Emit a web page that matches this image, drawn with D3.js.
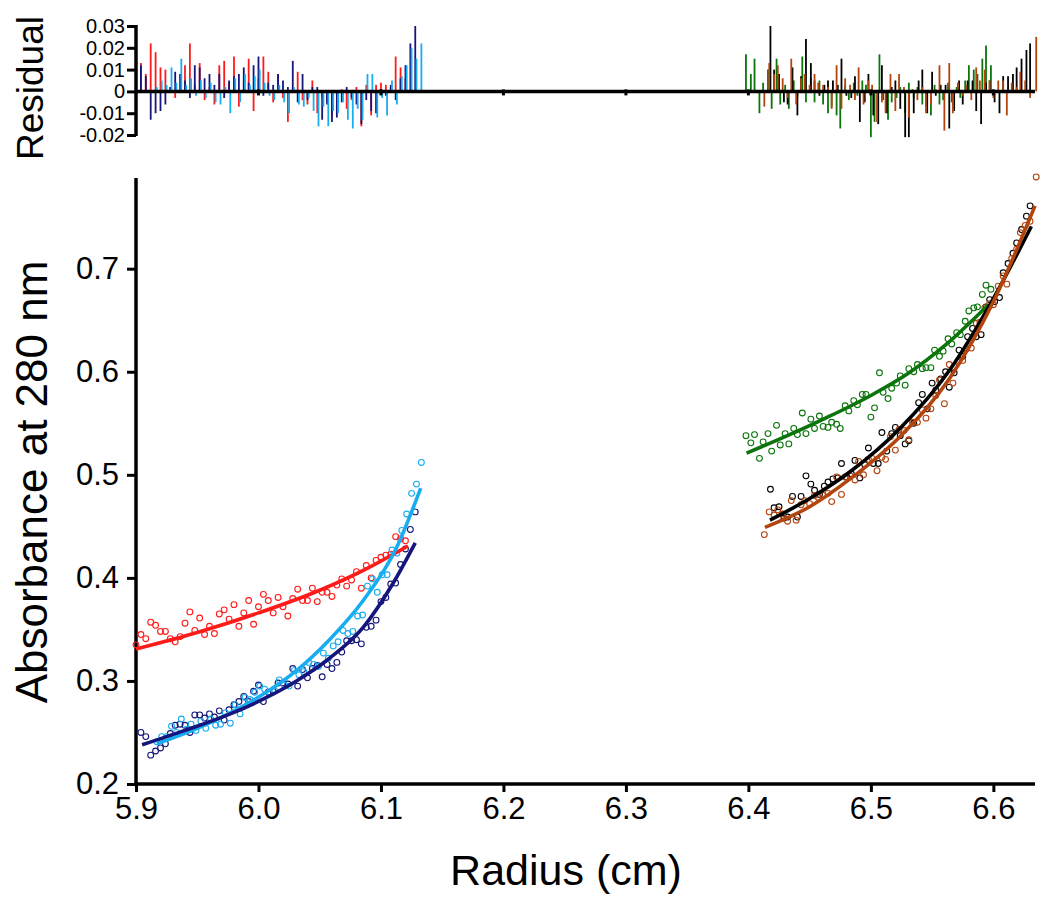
<!DOCTYPE html>
<html><head><meta charset="utf-8">
<script src="https://cdn.jsdelivr.net/npm/d3@7"></script>
<style>
html,body{margin:0;padding:0;background:#fff;}
svg{display:block;font-family:"Liberation Sans",Arial,Helvetica,sans-serif;}
</style></head>
<body><svg id="chart" width="1050" height="907"></svg>
<script>
// ---------- data ----------
const xTicks = [5.9, 6.0, 6.1, 6.2, 6.3, 6.4, 6.5, 6.6];
const yTicks = [0.2, 0.3, 0.4, 0.5, 0.6, 0.7];
const resTicks = [-0.02, -0.01, 0, 0.01, 0.02, 0.03];

// points: [radius, absorbance, residual]
const redPts = [
[5.900,.335,.004],[5.904,.345,.013],[5.908,.341,.008],[5.912,.357,.022],[5.916,.354,.018],[5.920,.348,.011],[5.924,.348,.010],[5.928,.341,.002],[5.932,.338,-.003],[5.936,.343,.001],[5.940,.356,.012],[5.944,.367,.022],[5.948,.349,.003],[5.952,.361,.013],[5.956,.345,-.004],[5.960,.353,.002],[5.964,.346,-.006],[5.968,.365,.012],[5.972,.369,.014],[5.976,.360,.004],[5.980,.374,.016],[5.984,.353,-.007],[5.988,.366,.005],[5.992,.378,.015],[5.996,.355,-.009],[6.000,.372,.006],[6.004,.384,.016],[6.008,.378,.009],[6.012,.366,-.005],[6.016,.381,.008],[6.020,.372,-.003],[6.024,.363,-.014],[6.028,.380,.002],[6.032,.389,.009],[6.036,.378,-.004],[6.040,.378,-.006],[6.044,.390,.005],[6.048,.377,-.010],[6.052,.386,-.003],[6.056,.386,-.005],[6.060,.382,-.011],[6.064,.393,-.002],[6.068,.399,.001],[6.072,.392,-.008],[6.076,.398,-.004],[6.080,.406,.002],[6.084,.390,-.016],[6.088,.412,.003],[6.092,.400,-.011],[6.096,.417,.003],[6.100,.420,.004],[6.104,.422,.003],[6.108,.423,.002],[6.112,.440,.016],[6.116,.438,.011],[6.120,.436,.006]
];
const navyPts = [
[5.904,.250,.012],[5.908,.246,.007],[5.912,.228,-.013],[5.916,.232,-.010],[5.920,.235,-.009],[5.924,.239,-.006],[5.928,.249,.002],[5.932,.257,.009],[5.936,.258,.008],[5.940,.257,.005],[5.944,.250,-.003],[5.948,.267,.012],[5.952,.267,.011],[5.956,.264,.006],[5.960,.268,.008],[5.964,.265,.003],[5.968,.271,.008],[5.972,.262,-.003],[5.976,.272,.005],[5.980,.277,.007],[5.984,.280,.008],[5.988,.285,.011],[5.992,.280,.004],[5.996,.290,.012],[6.000,.296,.016],[6.004,.280,-.002],[6.008,.289,.004],[6.012,.290,.003],[6.016,.298,.008],[6.020,.298,.005],[6.024,.297,.002],[6.028,.312,.014],[6.032,.295,-.005],[6.036,.311,.008],[6.040,.303,-.004],[6.044,.312,.002],[6.048,.315,.002],[6.052,.304,-.013],[6.056,.316,-.006],[6.060,.312,-.014],[6.064,.318,-.012],[6.068,.328,-.005],[6.072,.339,.002],[6.076,.339,-.003],[6.080,.340,-.006],[6.084,.336,-.015],[6.088,.352,-.004],[6.092,.353,-.009],[6.096,.359,-.010],[6.100,.377,.001],[6.104,.381,-.002],[6.108,.394,.003],[6.112,.395,-.004],[6.116,.413,.006],[6.120,.428,.012],[6.124,.447,.022],[6.128,.464,.030]
];
const lblPts = [
[5.917,.241,.002],[5.921,.246,.005],[5.925,.246,.003],[5.929,.256,.011],[5.933,.250,.004],[5.937,.263,.015],[5.941,.253,.003],[5.945,.258,.006],[5.949,.252,-.002],[5.953,.261,.005],[5.957,.254,-.003],[5.961,.263,.004],[5.965,.257,-.005],[5.969,.258,-.006],[5.973,.269,.002],[5.977,.259,-.010],[5.981,.277,.006],[5.985,.268,-.005],[5.989,.284,.008],[5.993,.282,.003],[5.997,.289,.007],[6.001,.295,.010],[6.005,.292,.004],[6.009,.289,-.002],[6.013,.291,-.004],[6.017,.301,.003],[6.021,.296,-.005],[6.025,.295,-.010],[6.029,.310,.002],[6.033,.306,-.006],[6.037,.309,-.007],[6.041,.318,-.003],[6.045,.316,-.009],[6.049,.314,-.016],[6.053,.327,-.007],[6.057,.322,-.016],[6.061,.334,-.009],[6.065,.338,-.010],[6.069,.349,-.005],[6.073,.346,-.013],[6.077,.348,-.017],[6.081,.363,-.008],[6.085,.364,-.013],[6.089,.392,.008],[6.093,.399,.008],[6.097,.386,-.012],[6.101,.403,-.003],[6.105,.403,-.011],[6.109,.427,.005],[6.113,.424,-.006],[6.117,.446,.007],[6.121,.462,.012],[6.125,.482,.020],[6.129,.491,.015],[6.133,.512,.022]
];
const greenPts = [
[6.398,.538,.017],[6.402,.531,.008],[6.405,.539,.015],[6.409,.516,-.010],[6.412,.532,.004],[6.416,.540,.010],[6.419,.523,-.008],[6.423,.548,.015],[6.426,.529,-.006],[6.430,.540,.003],[6.433,.530,-.008],[6.437,.545,.005],[6.440,.539,-.003],[6.444,.560,.016],[6.447,.540,-.005],[6.451,.554,.006],[6.454,.545,-.005],[6.458,.557,.005],[6.461,.547,-.006],[6.465,.546,-.010],[6.468,.551,-.007],[6.472,.549,-.011],[6.475,.545,-.017],[6.479,.567,.003],[6.482,.562,-.004],[6.486,.572,.004],[6.489,.568,-.002],[6.493,.578,.005],[6.496,.578,.003],[6.500,.556,-.021],[6.503,.565,-.014],[6.507,.599,.017],[6.510,.580,-.004],[6.514,.574,-.013],[6.517,.584,-.005],[6.521,.589,-.003],[6.524,.596,.002],[6.528,.587,-.010],[6.531,.603,.004],[6.535,.600,-.003],[6.538,.607,.002],[6.542,.603,-.006],[6.545,.604,-.007],[6.549,.604,-.011],[6.552,.621,.003],[6.556,.615,-.006],[6.559,.620,-.004],[6.563,.632,.004],[6.566,.627,-.005],[6.570,.638,.002],[6.573,.636,-.003],[6.577,.649,.005],[6.580,.659,.012],[6.584,.662,.010],[6.587,.663,.008],[6.591,.675,.015],[6.594,.684,.021],[6.598,.680,.012]
];
const blackPts = [
[6.418,.486,.030],[6.421,.468,.010],[6.425,.469,.008],[6.429,.458,-.005],[6.432,.459,-.006],[6.436,.479,.011],[6.440,.459,-.011],[6.443,.479,.007],[6.447,.499,.024],[6.451,.491,.013],[6.454,.485,.005],[6.458,.481,-.002],[6.462,.489,.003],[6.465,.493,.005],[6.469,.496,.005],[6.473,.497,.003],[6.476,.511,.015],[6.480,.498,-.002],[6.484,.501,-.003],[6.487,.514,.007],[6.491,.497,-.014],[6.495,.510,-.005],[6.498,.526,.008],[6.502,.511,-.011],[6.506,.511,-.015],[6.509,.541,.012],[6.513,.523,-.010],[6.517,.540,.002],[6.520,.546,.005],[6.524,.538,-.008],[6.528,.530,-.021],[6.531,.533,-.021],[6.535,.550,-.010],[6.539,.570,.005],[6.542,.578,.010],[6.546,.564,-.010],[6.550,.589,.009],[6.553,.582,-.002],[6.557,.593,.003],[6.561,.600,.003],[6.564,.585,-.017],[6.568,.599,-.009],[6.572,.621,.005],[6.575,.615,-.006],[6.579,.634,.005],[6.583,.642,.005],[6.586,.634,-.009],[6.590,.636,-.015],[6.594,.663,.004],[6.597,.670,.005],[6.601,.668,-.005],[6.605,.672,-.010],[6.608,.696,.007],[6.612,.705,.007],[6.616,.715,.008],[6.619,.725,.011],[6.623,.738,.015],[6.627,.751,.019],[6.630,.761,.022]
];
const brownPts = [
[6.413,.442,-.007],[6.417,.464,.013],[6.421,.461,.008],[6.424,.466,.012],[6.428,.462,.006],[6.432,.455,-.003],[6.435,.475,.015],[6.439,.456,-.006],[6.443,.471,.006],[6.446,.475,.008],[6.450,.472,.003],[6.454,.480,.008],[6.457,.478,.004],[6.461,.480,.003],[6.465,.482,.002],[6.468,.474,-.008],[6.472,.498,.012],[6.476,.481,-.008],[6.479,.498,.006],[6.483,.499,.003],[6.487,.495,-.004],[6.490,.513,.011],[6.494,.500,-.006],[6.498,.515,.005],[6.501,.516,.003],[6.505,.504,-.014],[6.509,.517,-.005],[6.512,.515,-.010],[6.516,.537,.008],[6.520,.524,-.009],[6.523,.544,.008],[6.527,.543,.002],[6.531,.534,-.012],[6.534,.551,.001],[6.538,.551,-.004],[6.542,.563,.002],[6.545,.555,-.010],[6.549,.564,-.006],[6.553,.577,.001],[6.556,.592,.012],[6.560,.569,-.018],[6.564,.607,.013],[6.567,.589,-.010],[6.571,.610,.004],[6.575,.611,-.002],[6.578,.622,.003],[6.582,.623,-.004],[6.586,.647,.011],[6.589,.648,.005],[6.593,.662,.010],[6.597,.666,.005],[6.600,.665,-.003],[6.604,.683,.005],[6.608,.693,.005],[6.611,.685,-.011],[6.615,.710,.004],[6.619,.719,.002],[6.622,.735,.009],[6.626,.742,.005],[6.630,.746,-.003],[6.635,.789,.025]
];

// fitted curves: [radius, absorbance]
const redFit   = [[5.900,.331],[5.950,.347],[6.000,.366],[6.050,.388],[6.090,.410],[6.122,.431]];
const navyFit  = [[5.905,.238],[5.940,.252],[5.977,.268],[6.005,.283],[6.031,.300],[6.058,.322],[6.0855,.352],[6.110,.395],[6.128,.434]];
const lblFit   = [[5.917,.239],[5.950,.254],[5.977,.269],[6.005,.288],[6.031,.310],[6.058,.340],[6.0855,.378],[6.113,.430],[6.1324,.487]];
const greenFit = [[6.3985,.521],[6.430,.537],[6.463,.555],[6.500,.577],[6.530,.598],[6.560,.625],[6.596,.665]];
const blackFit = [[6.4176,.456],[6.450,.477],[6.483,.503],[6.5237,.545],[6.5645,.602],[6.600,.671],[6.631,.741]];
const brownFit = [[6.4135,.449],[6.450,.469],[6.483,.496],[6.5237,.537],[6.5645,.594],[6.600,.668],[6.634,.761]];

const seriesNames  = ["red","navy","lightblue","green","black","brown"];
const seriesColors = ["#ff1a1a","#15157c","#18adf0","#0b740b","#000000","#b3440e"];
const seriesPts    = [redPts, navyPts, lblPts, greenPts, blackPts, brownPts];
const seriesFits   = [redFit, navyFit, lblFit, greenFit, blackFit, brownFit];
const lineOrder    = [0, 2, 1, 3, 4, 5];

// ---------- chart ----------
const svg = d3.select("#chart");
svg.append("rect").attr("width",1050).attr("height",907).attr("fill","#fff");

const x  = d3.scaleLinear().domain([5.9, 6.634]).range([136, 1035]);
const y  = d3.scaleLinear().domain([0.2, 0.788]).range([784, 178]);
const yr = d3.scaleLinear().domain([-0.02, 0.03]).range([135, 26]);

// residual bars
const resG = svg.append("g");
seriesPts.forEach((pts, i) => {
  resG.selectAll(null).data(pts).enter().append("line")
    .attr("x1", d => x(d[0])).attr("x2", d => x(d[0]))
    .attr("y1", yr(0)).attr("y2", d => yr(d[2]))
    .attr("stroke", seriesColors[i]).attr("stroke-width", 1.8);
});
// residual zero line with small ticks
svg.append("line").attr("x1", x(5.9)).attr("x2", 1035)
  .attr("y1", yr(0)).attr("y2", yr(0)).attr("stroke","#000").attr("stroke-width",3.5);
svg.append("g").selectAll("rect").data(xTicks.slice(1)).enter().append("rect")
  .attr("x", d => x(d) - 1.5).attr("y", yr(0) - 2).attr("width", 3).attr("height", 6).attr("fill","#000");

const resAxis = svg.append("g").attr("transform", `translate(${x(5.9)},0)`)
  .call(d3.axisLeft(yr).tickValues(resTicks).tickSize(9).tickSizeOuter(0)
    .tickFormat(d => d === 0 ? "0" : d3.format(".2f")(d).replace("\u2212","-")));
resAxis.select(".domain").attr("stroke-width",3.5).attr("d", `M0,${yr(-0.02)+1}V${yr(0.03)-1}`);
resAxis.selectAll(".tick line").attr("stroke-width",3);
resAxis.selectAll(".tick text").attr("font-size",20).attr("font-family","Liberation Sans, Arial, sans-serif").attr("fill","#000").attr("x",-11);

svg.append("text").attr("transform","translate(43,88) rotate(-90)")
  .attr("text-anchor","middle").attr("font-size",37).text("Residual");

// main axes
const xAxis = svg.append("g").attr("transform", `translate(0,${y(0.2)})`)
  .call(d3.axisBottom(x).tickValues(xTicks).tickSize(8).tickSizeOuter(0).tickFormat(d3.format(".1f")));
xAxis.select(".domain").attr("stroke-width",3.5).attr("d", `M${x(5.9)-1.5},0H1035`);
xAxis.selectAll(".tick line").attr("stroke-width",3);
xAxis.selectAll(".tick text").attr("font-size",31).attr("font-family","Liberation Sans, Arial, sans-serif").attr("fill","#000").attr("y",13);

const yAxis = svg.append("g").attr("transform", `translate(${x(5.9)},0)`)
  .call(d3.axisLeft(y).tickValues(yTicks).tickSize(9).tickSizeOuter(0).tickFormat(d3.format(".1f")));
yAxis.select(".domain").attr("stroke-width",3.5).attr("d", `M0,${y(0.2)+1.5}V178`);
yAxis.selectAll(".tick line").attr("stroke-width",3);
yAxis.selectAll(".tick text").attr("font-size",31).attr("font-family","Liberation Sans, Arial, sans-serif").attr("fill","#000").attr("x",-17);

svg.append("text").attr("x",566).attr("y",885).attr("text-anchor","middle")
  .attr("font-size",43).text("Radius (cm)");
svg.append("text").attr("transform","translate(47,482) rotate(-90)")
  .attr("text-anchor","middle").attr("font-size",44).text("Absorbance at 280 nm");

// scatter points
const ptG = svg.append("g");
seriesPts.forEach((pts, i) => {
  ptG.selectAll(null).data(pts).enter().append("circle")
    .attr("cx", d => x(d[0])).attr("cy", d => y(d[1])).attr("r", 2.9)
    .attr("fill","none").attr("stroke", seriesColors[i]).attr("stroke-width",1.1);
});

// fit lines
const line = d3.line().x(d => x(d[0])).y(d => y(d[1])).curve(d3.curveMonotoneX);
lineOrder.forEach(i => {
  svg.append("path").attr("d", line(seriesFits[i])).attr("fill","none")
    .attr("stroke", seriesColors[i]).attr("stroke-width",3.6).attr("stroke-linecap","butt");
});
</script></body></html>
